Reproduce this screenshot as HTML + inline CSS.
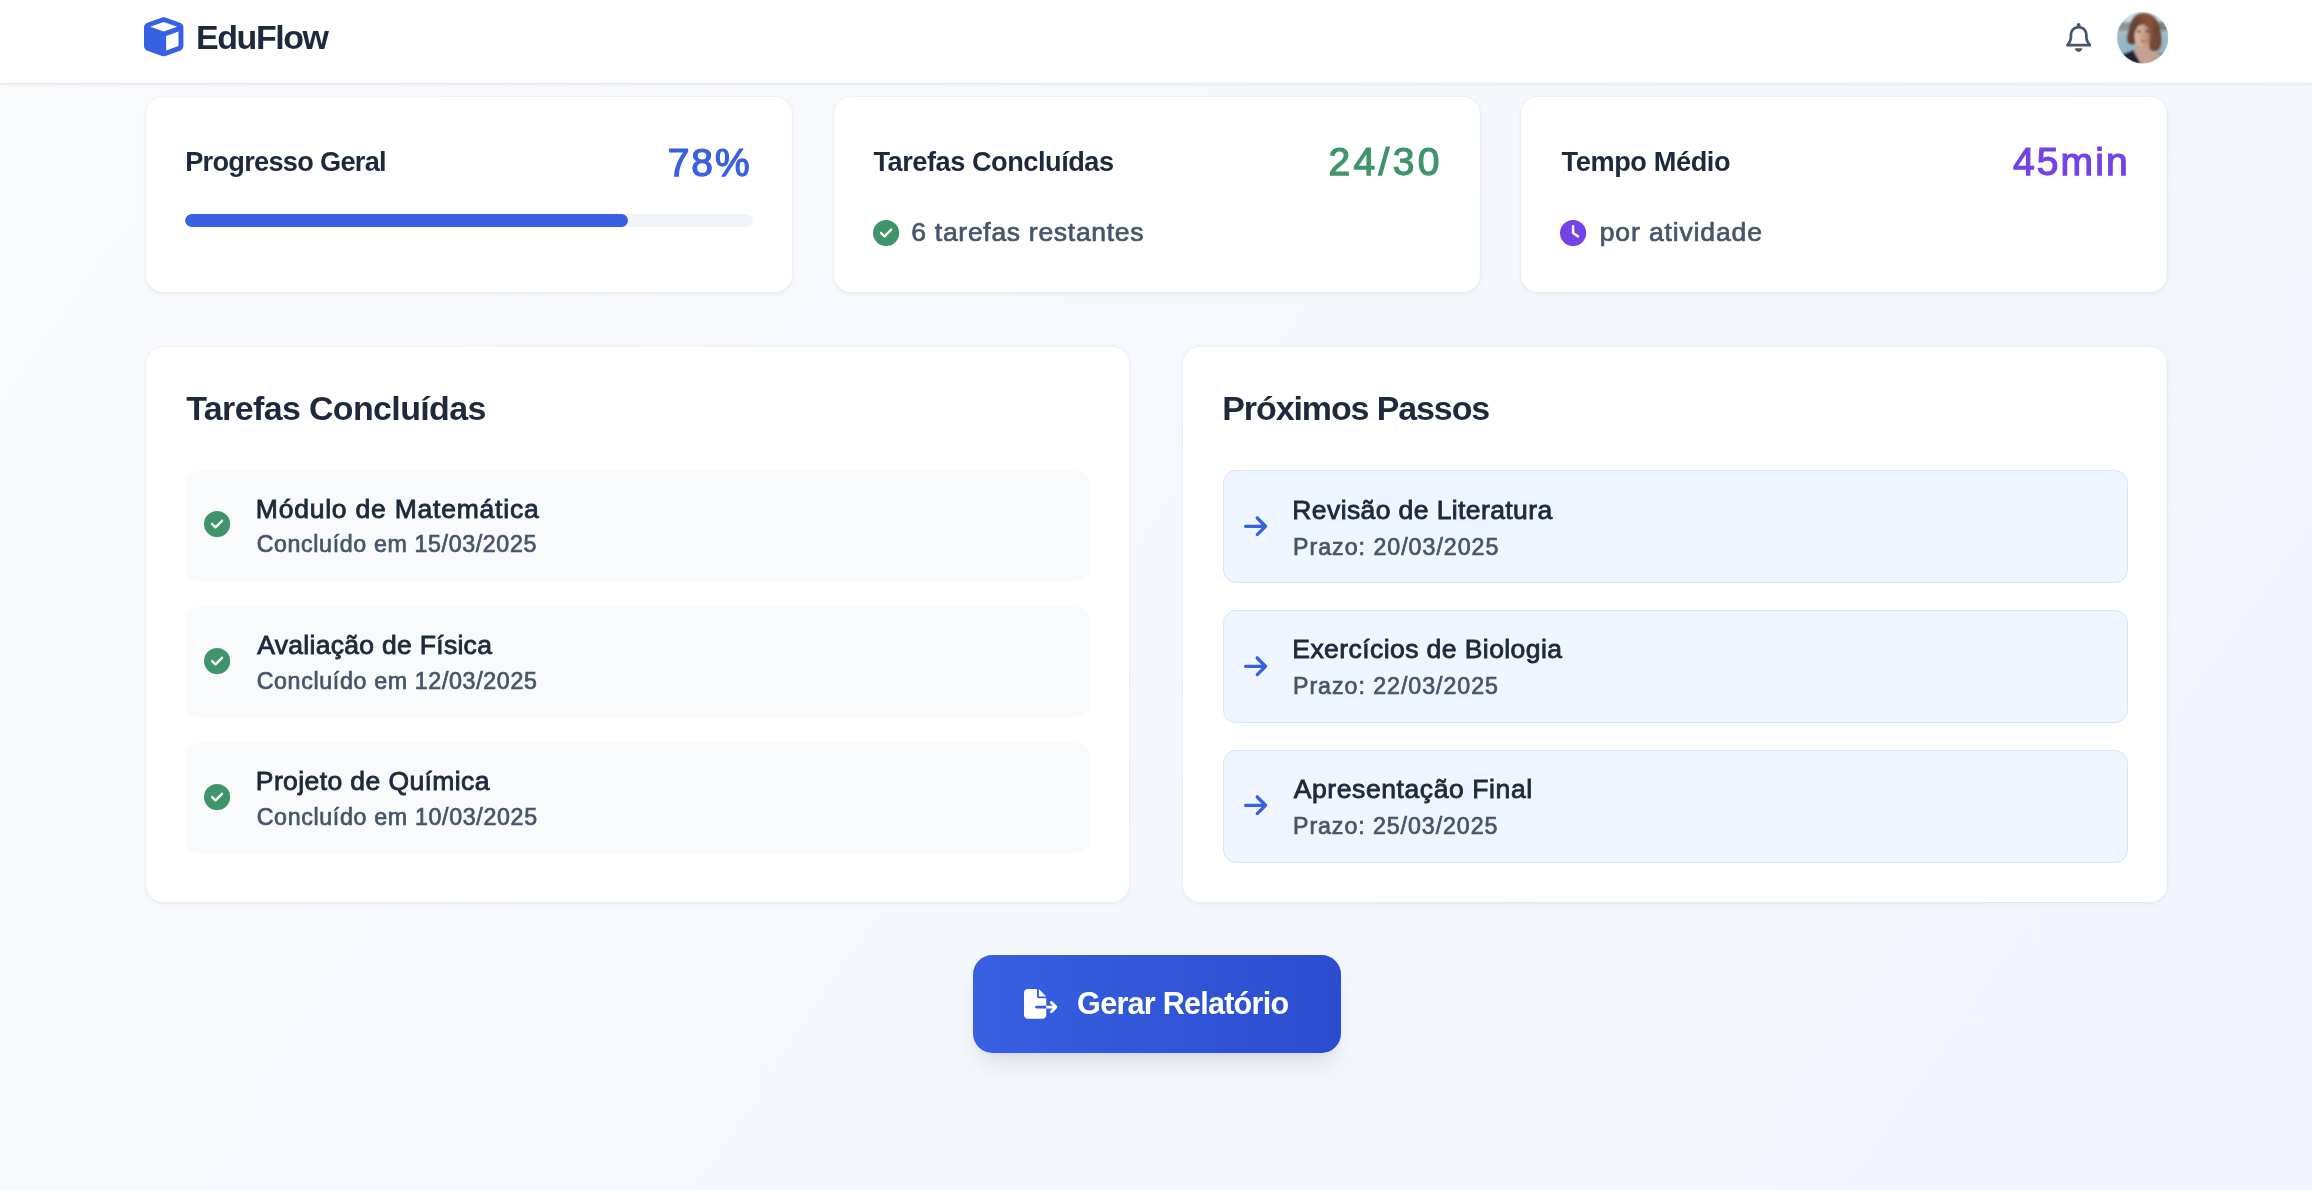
<!DOCTYPE html>
<html lang="pt-BR"><head><meta charset="utf-8"><title>EduFlow</title>
<style>
html,body{margin:0;padding:0}
body{width:2312px;height:1190px;overflow:hidden;position:relative;font-family:"Liberation Sans", sans-serif;background:linear-gradient(to bottom right,#f8fafc 0%,#eff3ff 100%) 0 0/2312px 3300px no-repeat}
.hdr{position:absolute;left:0;top:0;width:2312px;height:82.6px;background:#fff;border-bottom:1.6px solid #e5e7eb;box-shadow:0 1.6px 3.2px rgba(0,0,0,.03)}
.app{position:absolute;left:0;top:0;width:2312px;height:1190px;will-change:transform}
h1,h2,h3,h4,p,ul,li{margin:0;padding:0;list-style:none;font-weight:400}
button{border:0;padding:0;margin:0;font:inherit}
.t{position:absolute;white-space:pre;font-kerning:normal}
.ic{position:absolute;display:block;overflow:visible}
.card{position:absolute;background:#fff;border-radius:17px;box-shadow:0 1.6px 4.8px rgba(15,23,42,.055),0 0 0 1px rgba(15,23,42,.022)}
.bar{position:absolute;left:185px;top:213.8px;width:567.7px;height:13.2px;border-radius:7px;background:#f1f5f9;overflow:hidden}
.fill{width:78%;height:100%;border-radius:7px;background:#3860e2}
.done{position:absolute;left:185px;width:905px;height:110px;border-radius:13px;background:#f8fafc}
.next{position:absolute;left:1223px;width:905px;height:113px;border-radius:13px;background:#eff6ff;border:1.7px solid #d6e4fc;box-sizing:border-box}
.btn{position:absolute;left:972.6px;top:955.4px;width:368px;height:97.4px;border-radius:19.5px;background:linear-gradient(90deg,#3860e2,#2b4ccf);box-shadow:0 16px 24px -5px rgba(15,23,42,.10),0 6px 10px -6px rgba(15,23,42,.08)}
</style></head><body>
<div class="app">
<header>
<div class="hdr"></div>
<svg class="ic" style="left:144.0px;top:16.5px;width:39.4px;height:39.4px" viewBox="0 0 512 512"><path fill="#3860e2" d="M234.5 5.7c13.9-5 29.1-5 43.1 0l192 68.600C495 83.400 512 107.500 512 134.600V377.400c0 27-17 51.200-42.500 60.300l-192 68.600c-13.900 5-29.100 5-43.100 0l-192-68.600C17 428.600 0 404.500 0 377.400V134.600c0-27 17-51.200 42.500-60.300l192-68.600zM256 66L82.300 128 256 190l173.700-62L256 66zm32 368.600l160-57.100v-188L288 246.600v188z"/></svg>
<h1 class="t" style="left:196.05px;top:16.61px;font-size:33.96px;line-height:40.75px;font-weight:700;color:#1e293b;letter-spacing:-1.427px;">EduFlow</h1>
<svg class="ic" style="left:2065.7px;top:23.0px;width:25.3px;height:28.9px" viewBox="0 0 448 512"><path fill="#475569" d="M224 0c-17.700 0-32 14.300-32 32V51.200C119 66 64 130.600 64 208v25.400c0 45.400-15.500 89.500-43.800 124.900L5.300 377c-5.800 7.200-6.900 17.100-2.900 25.400S14.800 416 24 416H424c9.200 0 17.600-5.300 21.600-13.600s2.900-18.200-2.900-25.400l-14.900-18.600C399.500 322.900 384 278.800 384 233.400V208c0-77.400-55-142-128-156.800V32c0-17.700-14.300-32-32-32zm0 96c61.900 0 112 50.100 112 112v25.400c0 47.900 13.900 94.600 39.700 134.600H72.300C98.100 328 112 281.300 112 233.400V208c0-61.900 50.100-112 112-112zm64 352H224 160c0 17 6.700 33.300 18.700 45.300s28.300 18.700 45.300 18.700s33.300-6.700 45.300-18.700s18.700-28.300 18.700-45.300z"/></svg>
<svg class="ic" style="left:2117px;top:11.8px;width:51.4px;height:51.4px" viewBox="0 0 100 100">
<defs>
<clipPath id="avc"><circle cx="50" cy="50" r="50"/></clipPath>
<filter id="avb" x="-10%" y="-10%" width="120%" height="120%"><feGaussianBlur stdDeviation="1.6"/></filter>
<filter id="avb2" x="-10%" y="-10%" width="120%" height="120%"><feGaussianBlur stdDeviation="2.6"/></filter>
<linearGradient id="avw" x1="0" y1="0" x2="0" y2="1"><stop offset="0" stop-color="#b3cbd6"/><stop offset="0.4" stop-color="#9dbccc"/><stop offset="1" stop-color="#8db0c5"/></linearGradient>
<linearGradient id="avh" x1="0" y1="0" x2="1" y2="0"><stop offset="0" stop-color="#5c3a2d"/><stop offset="0.4" stop-color="#7f4e39"/><stop offset="0.7" stop-color="#8a553c"/><stop offset="1" stop-color="#673f30"/></linearGradient>
<linearGradient id="avf" x1="0" y1="0" x2="1" y2="0"><stop offset="0" stop-color="#dcb9a6"/><stop offset="0.5" stop-color="#d2a892"/><stop offset="1" stop-color="#a97e69"/></linearGradient>
</defs>
<g clip-path="url(#avc)">
<rect width="100" height="100" fill="url(#avw)"/>
<rect width="100" height="22" fill="#c6dfea"/>
<g filter="url(#avb2)">
<path d="M-5 24 Q12 16 30 22 L70 22 Q88 15 105 24 L105 37 L-5 38 Z" fill="#8b978b"/>
<path d="M70 22 Q88 15 105 24 L105 37 L70 37 Z" fill="#79857a"/>
<rect x="-5" y="37" width="110" height="4" fill="#b5c3c4"/>
</g>
<g filter="url(#avb)">
<path d="M4 86 L34 74 L49 104 L4 104 Z" fill="#1b2133"/>
<path d="M78 79 L94 83 L92 92 L76 85 Z" fill="#2b3144"/>
<path d="M33 77 Q41 68 42 58 L63 58 L65 76 L88 83 Q72 102 50 104 Q45 100 33 77 Z" fill="#c4a091"/>
<path d="M52 2 C37 2 28 12 24.5 30 C22 42 18 50 21 58 C25 66 35 64 38 58 L40 28 L60 20 L63 70 C66 79 80 79 84 68 C89 56 85 40 83 30 C80 14 69 2 52 2Z" fill="url(#avh)"/>
<path d="M22 40 C20 50 20 58 24 62 C30 64 34 62 37 58 L38 40 Z" fill="#5f3f33" opacity=".55"/>
<ellipse cx="49.5" cy="47" rx="15.5" ry="22" fill="url(#avf)"/>
<path d="M34 38 C34 18 44 7 57 7 C71 9 79 24 78 44 C77 58 73 68 65 74 C68 62 68 48 65 38 C61 29 54 24 46 24 C41 25 37 30 35 40Z" fill="url(#avh)"/>
<path d="M62 40 C64 50 64 62 62 72 C68 78 76 76 80 70 C70 66 66 52 64 40 Z" fill="#5f3f33" opacity=".35"/>
<ellipse cx="43" cy="38" rx="3.6" ry="2" fill="#3b2f3a"/>
<ellipse cx="59" cy="37.5" rx="3.6" ry="2.1" fill="#2f2633"/>
<path d="M49 40 L47.500 50 L52 50 Z" fill="#b98f7c" opacity=".7"/>
<ellipse cx="50.5" cy="57" rx="5.5" ry="2" fill="#a9645f"/>
</g>
</g>
<circle cx="50" cy="50" r="49.600" fill="none" stroke="#dbeaf3" stroke-width="0.800" opacity=".7"/>
</svg>
</header>
<main>
<section>
<div class="card" style="left:145.7px;top:97px;width:646.0px;height:195px"></div>
<h3 class="t" style="left:185.14px;top:145.89px;font-size:27.17px;line-height:32.6px;font-weight:700;color:#1e293b;letter-spacing:-0.703px;">Progresso Geral</h3>
<span class="t" style="left:667.77px;top:139.96px;font-size:39.0px;line-height:46.8px;font-weight:400;color:#3860e2;letter-spacing:1.910px;-webkit-text-stroke:1.25px #3860e2;">78%</span>
<div class="bar"><div class="fill"></div></div>
</section>
<section>
<div class="card" style="left:833.6px;top:97px;width:646.2px;height:195px"></div>
<h3 class="t" style="left:873.52px;top:145.89px;font-size:27.17px;line-height:32.6px;font-weight:700;color:#1e293b;letter-spacing:-0.467px;">Tarefas Concluídas</h3>
<span class="t" style="left:1328.61px;top:139.26px;font-size:39.0px;line-height:46.8px;font-weight:400;color:#40946a;letter-spacing:3.315px;-webkit-text-stroke:1.25px #40946a;">24/30</span>
<svg class="ic" style="left:872.75px;top:219.8px;width:26.2px;height:26.2px" viewBox="0 0 512 512"><path fill="#40946a" d="M256 512A256 256 0 1 0 256 0a256 256 0 1 0 0 512zM369 209L241 337c-9.400 9.400-24.600 9.400-33.900 0l-64-64c-9.400-9.400-9.400-24.600 0-33.900s24.600-9.400 33.900 0l47 47L335 175c9.400-9.400 24.600-9.400 33.900 0s9.400 24.600 0 33.900z"/></svg>
<p class="t" style="left:911.32px;top:216.75px;font-size:26.52px;line-height:31.82px;font-weight:400;color:#475569;letter-spacing:0.702px;-webkit-text-stroke:0.7px #475569;">6 tarefas restantes</p>
</section>
<section>
<div class="card" style="left:1521px;top:97px;width:646.3px;height:195px"></div>
<h3 class="t" style="left:1561.52px;top:145.89px;font-size:27.17px;line-height:32.6px;font-weight:700;color:#1e293b;letter-spacing:-0.391px;">Tempo Médio</h3>
<span class="t" style="left:2012.94px;top:139.26px;font-size:39.0px;line-height:46.8px;font-weight:400;color:#7442e6;letter-spacing:2.137px;-webkit-text-stroke:1.25px #7442e6;">45min</span>
<svg class="ic" style="left:1560.3px;top:219.8px;width:26.2px;height:26.2px" viewBox="0 0 512 512"><path fill="#7442e6" d="M256 0a256 256 0 1 1 0 512A256 256 0 1 1 256 0zM232 120V256c0 8 4 15.500 10.700 20l96 64c11 7.400 25.900 4.400 33.300-6.700s4.400-25.900-6.700-33.300L280 243.200V120c0-13.300-10.700-24-24-24s-24 10.700-24 24z"/></svg>
<p class="t" style="left:1599.76px;top:216.75px;font-size:26.52px;line-height:31.82px;font-weight:400;color:#475569;letter-spacing:0.861px;-webkit-text-stroke:0.7px #475569;">por atividade</p>
</section>
<section>
<div class="card" style="left:145.7px;top:346.8px;width:983.5px;height:555.2px"></div>
<h2 class="t" style="left:186.27px;top:387.86px;font-size:33.96px;line-height:40.75px;font-weight:700;color:#1e293b;letter-spacing:-0.627px;">Tarefas Concluídas</h2>
<ul>
<li>
<div class="done" style="top:470.5px"></div>
<svg class="ic" style="left:204.25px;top:511.3px;width:26.2px;height:26.2px" viewBox="0 0 512 512"><path fill="#40946a" d="M256 512A256 256 0 1 0 256 0a256 256 0 1 0 0 512zM369 209L241 337c-9.400 9.400-24.600 9.400-33.900 0l-64-64c-9.400-9.400-9.400-24.600 0-33.900s24.600-9.400 33.900 0l47 47L335 175c9.400-9.400 24.600-9.400 33.900 0s9.400 24.600 0 33.900z"/></svg>
<h4 class="t" style="left:255.81px;top:493.98px;font-size:26.52px;line-height:31.82px;font-weight:400;color:#1e293b;letter-spacing:0.771px;-webkit-text-stroke:0.85px #1e293b;">Módulo de Matemática</h4>
<p class="t" style="left:256.64px;top:531.28px;font-size:23.21px;line-height:27.85px;font-weight:400;color:#475569;letter-spacing:0.635px;-webkit-text-stroke:0.7px #475569;">Concluído em 15/03/2025</p>
</li>
<li>
<div class="done" style="top:606.75px"></div>
<svg class="ic" style="left:204.25px;top:647.9px;width:26.2px;height:26.2px" viewBox="0 0 512 512"><path fill="#40946a" d="M256 512A256 256 0 1 0 256 0a256 256 0 1 0 0 512zM369 209L241 337c-9.400 9.400-24.600 9.400-33.900 0l-64-64c-9.400-9.400-9.400-24.600 0-33.900s24.600-9.400 33.900 0l47 47L335 175c9.400-9.400 24.600-9.400 33.900 0s9.400 24.600 0 33.900z"/></svg>
<h4 class="t" style="left:257.19px;top:629.78px;font-size:26.52px;line-height:31.82px;font-weight:400;color:#1e293b;letter-spacing:0.294px;-webkit-text-stroke:0.85px #1e293b;">Avaliação de Física</h4>
<p class="t" style="left:256.64px;top:667.68px;font-size:23.21px;line-height:27.85px;font-weight:400;color:#475569;letter-spacing:0.659px;-webkit-text-stroke:0.7px #475569;">Concluído em 12/03/2025</p>
</li>
<li>
<div class="done" style="top:743px"></div>
<svg class="ic" style="left:204.25px;top:784.0px;width:26.2px;height:26.2px" viewBox="0 0 512 512"><path fill="#40946a" d="M256 512A256 256 0 1 0 256 0a256 256 0 1 0 0 512zM369 209L241 337c-9.400 9.400-24.600 9.400-33.900 0l-64-64c-9.400-9.400-9.400-24.600 0-33.900s24.600-9.400 33.900 0l47 47L335 175c9.400-9.400 24.600-9.400 33.900 0s9.400 24.600 0 33.900z"/></svg>
<h4 class="t" style="left:255.81px;top:766.08px;font-size:26.52px;line-height:31.82px;font-weight:400;color:#1e293b;letter-spacing:0.396px;-webkit-text-stroke:0.85px #1e293b;">Projeto de Química</h4>
<p class="t" style="left:256.64px;top:804.18px;font-size:23.21px;line-height:27.85px;font-weight:400;color:#475569;letter-spacing:0.670px;-webkit-text-stroke:0.7px #475569;">Concluído em 10/03/2025</p>
</li>
</ul>
</section>
<section>
<div class="card" style="left:1183px;top:346.8px;width:984.3px;height:555.2px"></div>
<h2 class="t" style="left:1222.30px;top:387.86px;font-size:33.96px;line-height:40.75px;font-weight:700;color:#1e293b;letter-spacing:-1.086px;">Próximos Passos</h2>
<ul>
<li>
<div class="next" style="top:470.2px"></div>
<svg class="ic" style="left:1243.8px;top:512.7px;width:23.2px;height:26.6px" viewBox="0 0 448 512"><path fill="#3860e2" d="M438.600 278.600c12.500-12.500 12.500-32.800 0-45.300l-160-160c-12.500-12.500-32.800-12.500-45.300 0s-12.500 32.800 0 45.300L338.800 224 32 224c-17.700 0-32 14.300-32 32s14.300 32 32 32l306.700 0L233.400 393.400c-12.500 12.500-12.500 32.800 0 45.300s32.800 12.500 45.300 0l160-160z"/></svg>
<h4 class="t" style="left:1292.31px;top:494.98px;font-size:26.52px;line-height:31.82px;font-weight:400;color:#1e293b;letter-spacing:0.392px;-webkit-text-stroke:0.85px #1e293b;">Revisão de Literatura</h4>
<p class="t" style="left:1293.01px;top:533.68px;font-size:23.21px;line-height:27.85px;font-weight:400;color:#475569;letter-spacing:0.985px;-webkit-text-stroke:0.7px #475569;">Prazo: 20/03/2025</p>
</li>
<li>
<div class="next" style="top:609.8px"></div>
<svg class="ic" style="left:1243.8px;top:652.7px;width:23.2px;height:26.6px" viewBox="0 0 448 512"><path fill="#3860e2" d="M438.600 278.600c12.500-12.500 12.500-32.800 0-45.300l-160-160c-12.500-12.500-32.800-12.500-45.300 0s-12.500 32.800 0 45.300L338.800 224 32 224c-17.700 0-32 14.300-32 32s14.300 32 32 32l306.700 0L233.400 393.400c-12.500 12.500-12.500 32.800 0 45.300s32.800 12.500 45.300 0l160-160z"/></svg>
<h4 class="t" style="left:1292.31px;top:634.28px;font-size:26.52px;line-height:31.82px;font-weight:400;color:#1e293b;letter-spacing:0.421px;-webkit-text-stroke:0.85px #1e293b;">Exercícios de Biologia</h4>
<p class="t" style="left:1293.01px;top:672.88px;font-size:23.21px;line-height:27.85px;font-weight:400;color:#475569;letter-spacing:0.955px;-webkit-text-stroke:0.7px #475569;">Prazo: 22/03/2025</p>
</li>
<li>
<div class="next" style="top:749.6px"></div>
<svg class="ic" style="left:1243.8px;top:792.2px;width:23.2px;height:26.6px" viewBox="0 0 448 512"><path fill="#3860e2" d="M438.600 278.600c12.500-12.500 12.500-32.800 0-45.300l-160-160c-12.500-12.500-32.800-12.500-45.300 0s-12.500 32.800 0 45.300L338.800 224 32 224c-17.700 0-32 14.300-32 32s14.300 32 32 32l306.700 0L233.400 393.400c-12.500 12.500-12.500 32.800 0 45.300s32.800 12.500 45.300 0l160-160z"/></svg>
<h4 class="t" style="left:1293.69px;top:774.28px;font-size:26.52px;line-height:31.82px;font-weight:400;color:#1e293b;letter-spacing:0.589px;-webkit-text-stroke:0.85px #1e293b;">Apresentação Final</h4>
<p class="t" style="left:1293.01px;top:812.68px;font-size:23.21px;line-height:27.85px;font-weight:400;color:#475569;letter-spacing:0.922px;-webkit-text-stroke:0.7px #475569;">Prazo: 25/03/2025</p>
</li>
</ul>
</section>
<div>
<button class="btn" type="button"></button>
<svg class="ic" style="left:1024.0px;top:989.0px;width:33.4px;height:29.7px" viewBox="0 0 576 512"><path fill="#fff" d="M0 64C0 28.700 28.700 0 64 0H224V128c0 17.700 14.300 32 32 32H384V288H216c-13.300 0-24 10.700-24 24s10.700 24 24 24H384V448c0 35.300-28.700 64-64 64H64c-35.300 0-64-28.700-64-64V64zM384 336V288H494.100l-39-39c-9.400-9.400-9.400-24.600 0-33.900s24.600-9.400 33.900 0l80 80c9.400 9.400 9.400 24.600 0 33.900l-80 80c-9.400 9.400-24.600 9.400-33.900 0s-9.400-24.600 0-33.900l39-39H384zm0-208H256V0L384 128z"/></svg>
<span class="t" style="left:1077.12px;top:984.82px;font-size:30.57px;line-height:36.68px;font-weight:700;color:#ffffff;letter-spacing:-0.752px;">Gerar Relatório</span>
</div>
</main>
</div>
</body></html>
